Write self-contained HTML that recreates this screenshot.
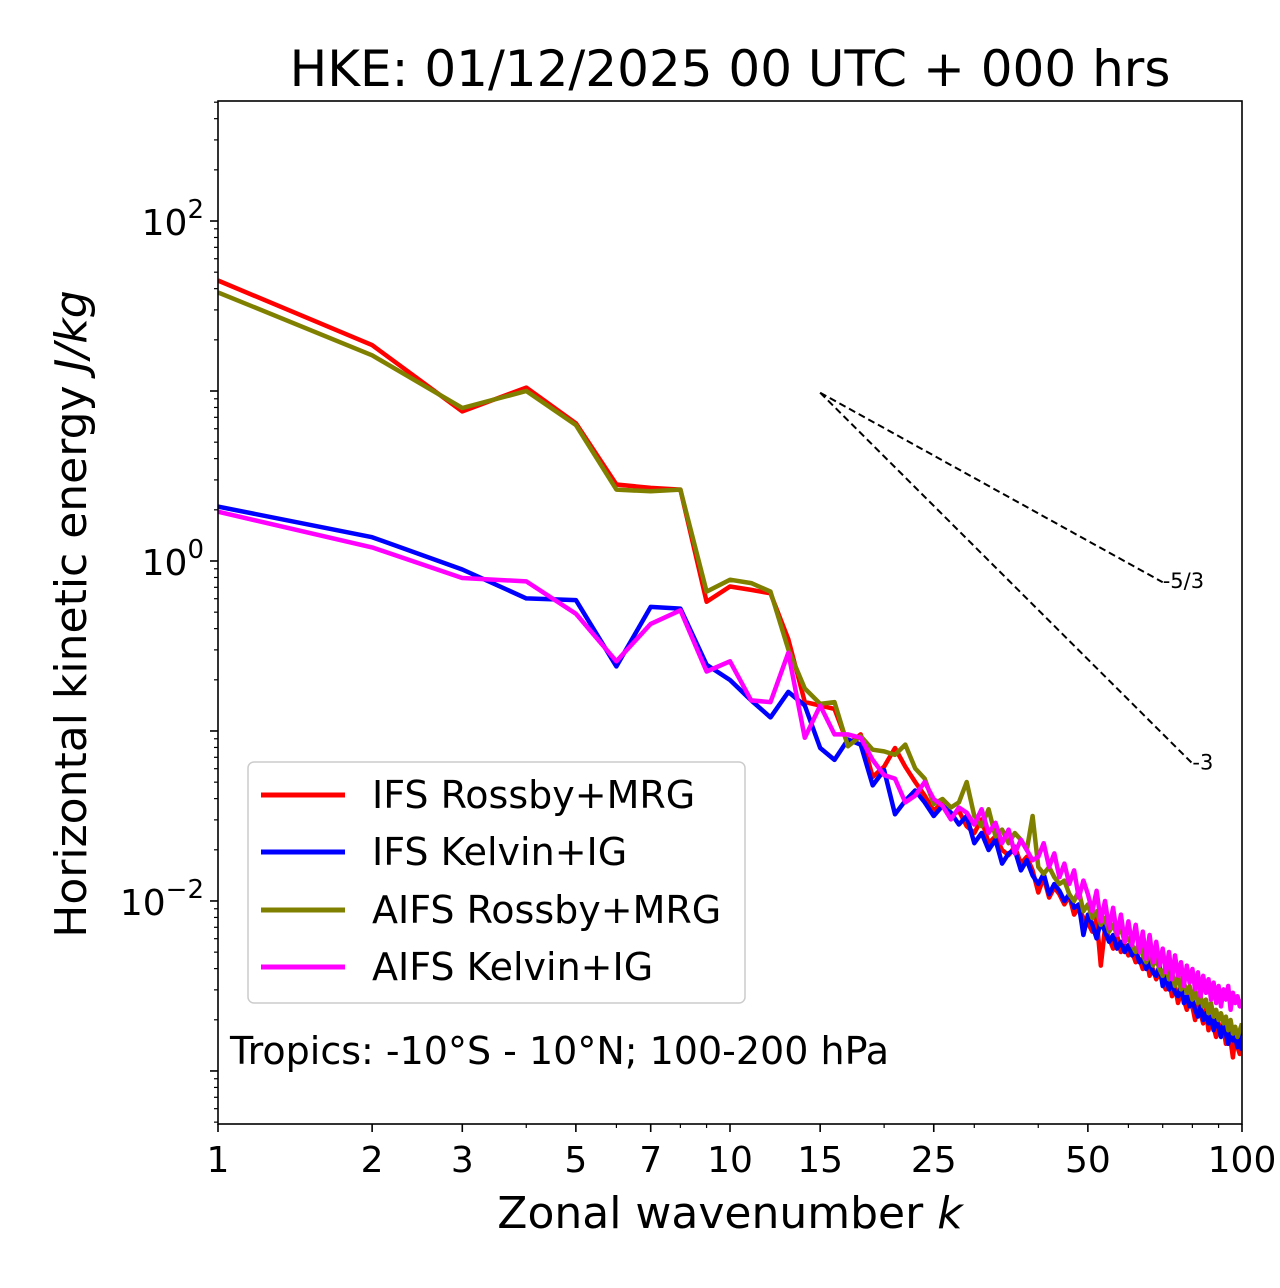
<!DOCTYPE html>
<html><head><meta charset="utf-8"><style>
html,body{margin:0;padding:0;background:#fff;}
svg{display:block;font-family:"DejaVu Sans","Liberation Sans",sans-serif;}
</style></head><body>
<svg id="chart" width="1280" height="1288" viewBox="0 0 1280 1288" xmlns="http://www.w3.org/2000/svg">
<rect width="1280" height="1288" fill="#fff"/>
<text x="730" y="86" font-size="50" text-anchor="middle">HKE: 01/12/2025 00 UTC + 000 hrs</text>
<g id="ticks"></g>
<g id="series"></g>
<rect x="218" y="101" width="1024" height="1023" fill="none" stroke="#000" stroke-width="1.6"/>
<text x="730" y="1228" font-size="44" text-anchor="middle">Zonal wavenumber <tspan font-style="italic">k</tspan></text>
<text transform="translate(86,614) rotate(-90)" font-size="44" text-anchor="middle">Horizontal kinetic energy <tspan font-style="italic">J/kg</tspan></text>
<text x="230" y="1064" font-size="38">Tropics: -10°S - 10°N; 100-200 hPa</text>
<g>
<rect x="248" y="762" width="497" height="241" rx="6" fill="#fff" fill-opacity="0.85" stroke="#ccc" stroke-width="1.5"/>
<g><line x1="261" y1="795" x2="345" y2="795" stroke="#ff0000" stroke-width="5"/><text x="372" y="808" font-size="38">IFS Rossby+MRG</text></g>
<g><line x1="261" y1="852" x2="345" y2="852" stroke="#0000ff" stroke-width="5"/><text x="372" y="865" font-size="38">IFS Kelvin+IG</text></g>
<g><line x1="261" y1="910" x2="345" y2="910" stroke="#808000" stroke-width="5"/><text x="372" y="923" font-size="38">AIFS Rossby+MRG</text></g>
<g><line x1="261" y1="967" x2="345" y2="967" stroke="#ff00ff" stroke-width="5"/><text x="372" y="980" font-size="38">AIFS Kelvin+IG</text></g>
</g>
</svg>
<script>
const xTickLabels=[1,2,3,5,7,10,15,25,50,100];
const xMinorTicks=[4,6,8,9,20,30,40,60,70,80,90];
const yMajorExps=[-2,0,2];
// log10 of HKE (J/kg) for k = 1..100
const ifsRossby=[1.65,1.27,0.88,1.02,0.81,0.45,0.43,0.42,-0.24,-0.15,-0.17,-0.19,-0.46,-0.83,-0.85,-0.87,-1.08,-1.02,-1.27,-1.21,-1.10,-1.21,
-1.30,-1.38,-1.47,-1.42,-1.50,-1.47,-1.56,-1.60,
-1.52,-1.66,-1.62,-1.70,-1.73,-1.68,-1.78,-1.74,-1.82,-1.95,
-1.86,-1.98,-1.92,-1.96,-2.02,-1.97,-2.08,-2.04,-2.10,-2.13,
-2.18,-2.10,-2.38,-2.16,-2.22,-2.28,-2.20,-2.30,-2.26,-2.32,
-2.30,-2.36,-2.34,-2.40,-2.32,-2.44,-2.40,-2.46,-2.42,-2.48,
-2.52,-2.46,-2.56,-2.50,-2.60,-2.54,-2.58,-2.64,-2.56,-2.62,
-2.70,-2.60,-2.66,-2.72,-2.64,-2.76,-2.68,-2.74,-2.80,-2.72,
-2.78,-2.74,-2.84,-2.76,-2.82,-2.92,-2.80,-2.86,-2.90,-2.84];
const ifsKelvin=[0.32,0.14,-0.05,-0.22,-0.23,-0.62,-0.27,-0.28,-0.61,-0.70,-0.82,-0.92,-0.77,-0.85,-1.10,-1.17,-1.05,-1.08,-1.32,-1.23,-1.49,-1.41,
-1.35,-1.42,-1.50,-1.44,-1.48,-1.55,-1.50,-1.66,
-1.60,-1.70,-1.64,-1.78,-1.72,-1.70,-1.82,-1.76,-1.85,-1.90,
-1.84,-1.96,-1.90,-1.94,-2.00,-1.96,-2.04,-2.02,-2.20,-2.08,
-2.14,-2.22,-2.12,-2.18,-2.24,-2.20,-2.28,-2.24,-2.30,-2.26,
-2.32,-2.28,-2.36,-2.34,-2.40,-2.36,-2.42,-2.44,-2.38,-2.50,
-2.44,-2.52,-2.48,-2.54,-2.56,-2.50,-2.60,-2.56,-2.62,-2.58,
-2.64,-2.68,-2.62,-2.70,-2.66,-2.72,-2.68,-2.76,-2.70,-2.74,
-2.80,-2.72,-2.78,-2.84,-2.76,-2.82,-2.80,-2.86,-2.78,-2.88];
const aifsRossby=[1.58,1.21,0.90,1.00,0.80,0.42,0.41,0.42,-0.18,-0.11,-0.13,-0.18,-0.52,-0.75,-0.84,-0.83,-1.09,-1.03,-1.11,-1.12,-1.14,-1.08,
-1.22,-1.28,-1.43,-1.40,-1.45,-1.42,-1.30,-1.50,
-1.56,-1.46,-1.62,-1.58,-1.66,-1.60,-1.64,-1.70,-1.50,-1.80,
-1.84,-1.80,-1.86,-1.90,-1.88,-1.96,-2.00,-1.94,-2.06,-2.02,
-2.10,-2.06,-2.14,-2.10,-2.18,-2.14,-2.20,-2.16,-2.24,-2.22,
-2.26,-2.30,-2.24,-2.32,-2.36,-2.30,-2.38,-2.34,-2.40,-2.44,
-2.38,-2.46,-2.42,-2.50,-2.44,-2.52,-2.48,-2.54,-2.50,-2.58,
-2.52,-2.60,-2.56,-2.62,-2.58,-2.66,-2.60,-2.68,-2.64,-2.70,
-2.66,-2.72,-2.68,-2.76,-2.70,-2.78,-2.74,-2.80,-2.76,-2.72];
const aifsKelvin=[0.29,0.08,-0.10,-0.12,-0.31,-0.59,-0.37,-0.29,-0.65,-0.59,-0.82,-0.83,-0.54,-1.04,-0.85,-1.02,-1.02,-1.04,-1.17,-1.26,-1.28,-1.42,
-1.38,-1.30,-1.40,-1.44,-1.52,-1.45,-1.48,-1.55,
-1.46,-1.60,-1.54,-1.66,-1.58,-1.72,-1.64,-1.70,-1.76,-1.74,
-1.66,-1.80,-1.72,-1.86,-1.78,-1.90,-1.82,-1.98,-1.88,-1.96,
-2.06,-1.94,-2.12,-2.00,-2.16,-2.04,-2.20,-2.08,-2.24,-2.12,
-2.26,-2.14,-2.30,-2.18,-2.34,-2.20,-2.36,-2.24,-2.38,-2.28,
-2.42,-2.30,-2.46,-2.32,-2.44,-2.36,-2.50,-2.38,-2.48,-2.40,
-2.52,-2.42,-2.56,-2.44,-2.54,-2.46,-2.58,-2.48,-2.60,-2.50,
-2.62,-2.52,-2.58,-2.50,-2.64,-2.54,-2.60,-2.56,-2.62,-2.58];
const refStartK=15, refStartLog=0.99;
const refSlopes=[-5/3,-3];
const refEndK=[70,80];
const refLabels=["-5/3","-3"];

const NS="http://www.w3.org/2000/svg";
const X0=218,X1=1242,Y0=101,Y1=1124;
const xMinL=0,xMaxL=2,yMinL=-3.312,yMaxL=2.706;
function xs(k){return X0+(Math.log10(k)-xMinL)/(xMaxL-xMinL)*(X1-X0);}
function ys(l){return Y1-(l-yMinL)/(yMaxL-yMinL)*(Y1-Y0);}
function mk(tag,attrs,parent){const e=document.createElementNS(NS,tag);for(const a in attrs)e.setAttribute(a,attrs[a]);parent.appendChild(e);return e;}
const tg=document.getElementById('ticks');
xTickLabels.forEach(k=>{const x=xs(k);
 const t=mk('line',{x1:x,y1:Y1,x2:x,y2:Y1+8,stroke:'#000','stroke-width':1.6},tg);
 
 
 const l=mk('text',{x:x,y:Y1+48,'font-size':36,'text-anchor':'middle'},tg);l.textContent=k;
 
 });
xMinorTicks.forEach(k=>{const x=xs(k);
 const t=mk('line',{x1:x,y1:Y1,x2:x,y2:Y1+4,stroke:'#000','stroke-width':1.2},tg);
 
 });
for(let d=-4;d<=2;d++){for(let m=1;m<10;m++){const l=d+Math.log10(m);if(l<yMinL||l>yMaxL)continue;const y=ys(l);
 const t=mk('line',{x1:X0,y1:y,x2:X0-(m==1?8:4),y2:y,stroke:'#000','stroke-width':m==1?1.6:1.2},tg);
 
 }}
yMajorExps.forEach(e=>{const y=ys(e);
 const t=mk('text',{x:X0-14,y:y+14,'font-size':36,'text-anchor':'end'},tg);
 
 
 t.appendChild(document.createTextNode('10'));
 const s=document.createElementNS(NS,'tspan');s.setAttribute('dy','-17');s.setAttribute('font-size','26');s.textContent=(e<0?'\u2212':'')+Math.abs(e);t.appendChild(s);});
const sg=document.getElementById('series');
const defs=[[ifsRossby,'#ff0000','ifs-rossby-line'],[ifsKelvin,'#0000ff','ifs-kelvin-line'],[aifsRossby,'#808000','aifs-rossby-line'],[aifsKelvin,'#ff00ff','aifs-kelvin-line']];
const clip=mk('clipPath',{id:'pc'},sg);mk('rect',{x:X0,y:Y0,width:X1-X0,height:Y1-Y0},clip);
defs.forEach(([arr,c,n])=>{const pts=arr.map((v,i)=>xs(i+1).toFixed(1)+','+ys(v).toFixed(1)).join(' ');
 const p=mk('polyline',{points:pts,fill:'none',stroke:c,'stroke-width':4.5,'stroke-linejoin':'round','clip-path':'url(#pc)'},sg);
 
 });
refSlopes.forEach((s,i)=>{const x1=xs(refStartK),y1=ys(refStartLog),x2=xs(refEndK[i]),y2=ys(refStartLog+s*Math.log10(refEndK[i]/refStartK));
 const l=mk('line',{x1:x1,y1:y1,x2:x2,y2:y2,stroke:'#000','stroke-width':2,'stroke-dasharray':'7,4'},sg);
 
 
 const t=mk('text',{x:x2,y:y2+6,'font-size':21},sg);t.textContent=refLabels[i];
 
 });
</script>
</body></html>
